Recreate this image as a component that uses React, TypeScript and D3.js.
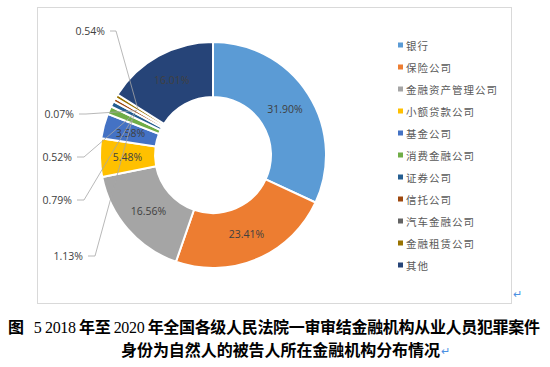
import React from "react";
import * as d3 from "d3";

const categories = ["银行", "保险公司", "金融资产管理公司", "小额贷款公司", "基金公司", "消费金融公司", "证券公司", "信托公司", "汽车金融公司", "金融租赁公司", "其他"];
const values = [31.90, 23.41, 16.56, 5.48, 3.58, 1.13, 0.79, 0.52, 0.07, 0.54, 16.01];
const colors = ["#5B9BD5", "#ED7D31", "#A5A5A5", "#FFC000", "#4472C4", "#70AD47", "#255E91", "#9E480E", "#636363", "#997300", "#264478"];
const outsideLabelIdx = [5, 6, 7, 8, 9];
// label anchor (right edge x, center y) and elbow length for outside labels
const outsideLayout: Record<number, { x: number; y: number; elbow: number }> = {
  5: { x: 83, y: 256, elbow: 7 },
  6: { x: 72, y: 200, elbow: 7 },
  7: { x: 72, y: 157, elbow: 7 },
  8: { x: 74, y: 114, elbow: 7 },
  9: { x: 105, y: 31, elbow: 6 },
};

const W = 550, H = 367;
const cx = 213, cy = 155, rOuter = 113, rInner = 58;

export default function App() {
  const pie = d3.pie<number>().sort(null).value((d) => d).startAngle(0).endAngle(2 * Math.PI);
  const arcs = pie(values);
  const arc = d3.arc<d3.PieArcDatum<number>>().innerRadius(rInner).outerRadius(rOuter);
  const labelArc = d3.arc<d3.PieArcDatum<number>>().innerRadius(rInner).outerRadius(rOuter);
  const leadR = 88;
  const fmt = (v: number) => v.toFixed(2) + "%";
  const labelFont = "'Open Sans', 'Noto Sans', sans-serif";
  const cjk = "'Noto Sans CJK SC', sans-serif";
  const serif = "'Liberation Serif', serif";

  return (
    <svg width={W} height={H} style={{ position: "fixed", left: 0, top: 0, background: "#fff" }}>
      <rect x={37.5} y={7.5} width={474} height={296} fill="#fff" stroke="#D9D9D9" strokeWidth={1} />
      <g transform={`translate(${cx},${cy})`}>
        {arcs.map((a, i) => (
          <path key={i} d={arc(a) || ""} fill={colors[i]} stroke="#fff" strokeWidth={2} />
        ))}
        {arcs.map((a, i) => {
          if (outsideLabelIdx.includes(i)) return null;
          const [x, y] = labelArc.centroid(a);
          return (
            <text key={"l" + i} x={x} y={y} textAnchor="middle" dominantBaseline="central" fontSize={10.5} fontFamily={labelFont} fill="#404040">
              {fmt(values[i])}
            </text>
          );
        })}
      </g>
      {outsideLabelIdx.map((i) => {
        const a = arcs[i];
        const mid = (a.startAngle + a.endAngle) / 2;
        const ex = cx + leadR * Math.sin(mid);
        const ey = cy - leadR * Math.cos(mid);
        const L = outsideLayout[i];
        const sx = L.x + 5;
        const kx = sx + L.elbow;
        return (
          <g key={"o" + i}>
            <polyline points={`${sx},${L.y} ${kx},${L.y} ${ex},${ey}`} fill="none" stroke="#A6A6A6" strokeWidth={0.8} />
            <text x={L.x} y={L.y} textAnchor="end" dominantBaseline="central" fontSize={10.5} fontFamily={labelFont} fill="#404040">
              {fmt(values[i])}
            </text>
          </g>
        );
      })}
      {categories.map((c, i) => (
        <g key={"lg" + i} transform={`translate(398,${45 + i * 22})`}>
          <rect x={0} y={-2.5} width={5} height={5} fill={colors[i]} />
          <text x={8} y={0} dominantBaseline="central" fontSize={10.5} letterSpacing={1} fontFamily={cjk} fill="#595959">
            {c}
          </text>
        </g>
      ))}
      <text x={513} y={298} fontSize={11} fill="#4A90E2" fontFamily={labelFont}>↵</text>
      <text x={8} y={333} fontSize={16} fontWeight="bold" fontFamily={cjk} fill="#000" textLength={532} lengthAdjust="spacing">
        图<tspan dx={10} fontFamily={serif} fontWeight="normal">5 2018</tspan> 年至 <tspan fontFamily={serif} fontWeight="normal">2020</tspan> 年全国各级人民法院一审审结金融机构从业人员犯罪案件
      </text>
      <text x={121} y={356} fontSize={16} fontWeight="bold" fontFamily={cjk} fill="#000" textLength={319} lengthAdjust="spacing">
        身份为自然人的被告人所在金融机构分布情况
      </text>
      <text x={441} y={355} fontSize={11} fill="#4A90E2" fontFamily={labelFont}>↵</text>
    </svg>
  );
}
